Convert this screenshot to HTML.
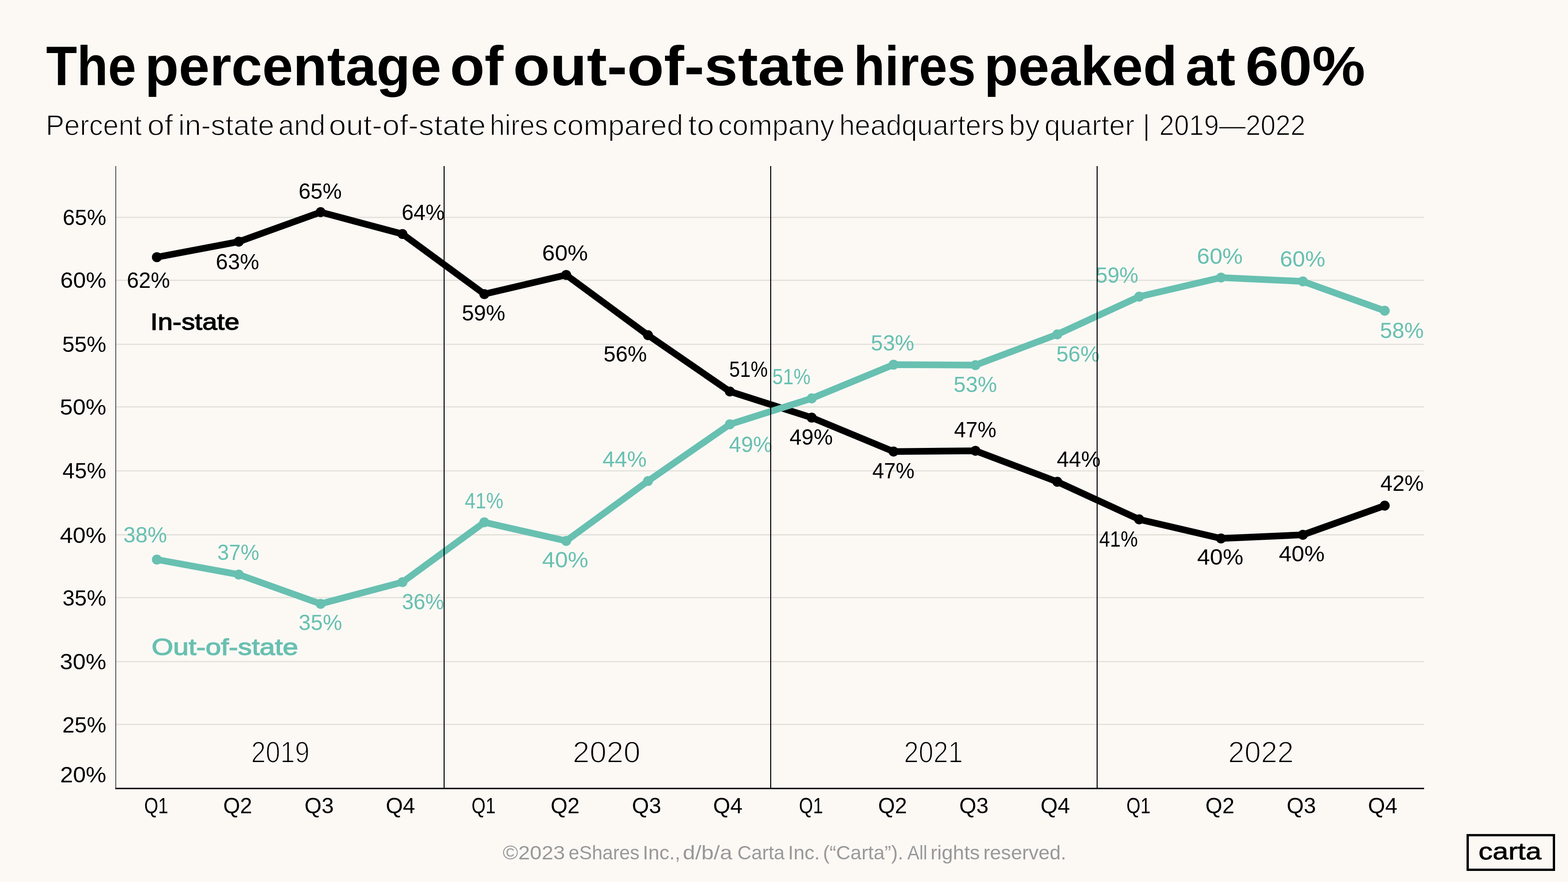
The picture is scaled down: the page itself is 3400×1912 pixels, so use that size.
<!DOCTYPE html>
<html lang="en">
<head>
<meta charset="utf-8">
<title>The percentage of out-of-state hires peaked at 60%</title>
<style>
html,body{margin:0;padding:0;background:#FCF9F5;}
body{width:3400px;height:1912px;overflow:hidden;position:relative;font-family:'Liberation Sans', sans-serif;}
svg{position:absolute;left:0;top:0;display:block;}
text{font-family:'Liberation Sans', sans-serif;white-space:pre;}
.t{font-weight:700;font-size:120px;fill:#000;}
.s{font-size:62.5px;fill:#000;stroke:#FCF9F5;stroke-width:1.5px;}
.yl{font-size:47.5px;fill:#000;}
.xl{font-size:48px;fill:#000;}
.yr{font-size:65px;fill:#000;stroke:#FCF9F5;stroke-width:1.9px;}
.dl{font-size:47.5px;}
.k{fill:#000;}
.g{fill:#68C0B1;}
.sl{font-size:50px;font-weight:400;stroke-width:1.5px;stroke-linejoin:miter;}
.sl.k{stroke:#000;}
.sl.g{stroke:#68C0B1;}
.ft{font-size:42.5px;fill:#999;}
.lg{font-size:52px;font-weight:400;fill:#000;stroke:#000;stroke-width:0.9px;stroke-linejoin:round;}
</style>
</head>
<body>
<svg width="3400" height="1912" viewBox="0 0 3400 1912">
<rect x="0" y="0" width="3400" height="1912" fill="#FCF9F5"/>
<text class="t" y="184.5"><tspan x="100.0" textLength="195.3" lengthAdjust="spacingAndGlyphs">The</tspan> <tspan x="314.0" textLength="643.0" lengthAdjust="spacingAndGlyphs">percentage</tspan> <tspan x="975.7" textLength="115.9" lengthAdjust="spacingAndGlyphs">of</tspan> <tspan x="1112.6" textLength="720.2" lengthAdjust="spacingAndGlyphs">out-of-state</tspan> <tspan x="1850.9" textLength="264.9" lengthAdjust="spacingAndGlyphs">hires</tspan> <tspan x="2133.4" textLength="419.4" lengthAdjust="spacingAndGlyphs">peaked</tspan> <tspan x="2570.4" textLength="108.4" lengthAdjust="spacingAndGlyphs">at</tspan> <tspan x="2700.6" textLength="259.8" lengthAdjust="spacingAndGlyphs">60%</tspan></text>
<text class="s" y="292.5"><tspan x="99.3" textLength="208.2" lengthAdjust="spacingAndGlyphs">Percent</tspan> <tspan x="319.5" textLength="55.5" lengthAdjust="spacingAndGlyphs">of</tspan> <tspan x="386.6" textLength="208.1" lengthAdjust="spacingAndGlyphs">in-state</tspan> <tspan x="603.5" textLength="102.1" lengthAdjust="spacingAndGlyphs">and</tspan> <tspan x="713.0" textLength="340.4" lengthAdjust="spacingAndGlyphs">out-of-state</tspan> <tspan x="1062.1" textLength="126.5" lengthAdjust="spacingAndGlyphs">hires</tspan> <tspan x="1198.1" textLength="283.3" lengthAdjust="spacingAndGlyphs">compared</tspan> <tspan x="1492.1" textLength="56.4" lengthAdjust="spacingAndGlyphs">to</tspan> <tspan x="1556.9" textLength="252.6" lengthAdjust="spacingAndGlyphs">company</tspan> <tspan x="1819.8" textLength="358.3" lengthAdjust="spacingAndGlyphs">headquarters</tspan> <tspan x="2187.5" textLength="66.9" lengthAdjust="spacingAndGlyphs">by</tspan> <tspan x="2264.8" textLength="195.1" lengthAdjust="spacingAndGlyphs">quarter</tspan> <tspan x="2477.7" textLength="16.2" lengthAdjust="spacingAndGlyphs">|</tspan> <tspan x="2513.7" textLength="316.9" lengthAdjust="spacingAndGlyphs">2019—2022</tspan></text>
<g id="grid" stroke="#E2E0DA" stroke-width="2.6" fill="none">
<line x1="251.0" y1="471.2" x2="3088.0" y2="471.2"/>
<line x1="251.0" y1="607.6" x2="3088.0" y2="607.6"/>
<line x1="251.0" y1="746.5" x2="3088.0" y2="746.5"/>
<line x1="251.0" y1="882.0" x2="3088.0" y2="882.0"/>
<line x1="251.0" y1="1020.7" x2="3088.0" y2="1020.7"/>
<line x1="251.0" y1="1159.4" x2="3088.0" y2="1159.4"/>
<line x1="251.0" y1="1295.5" x2="3088.0" y2="1295.5"/>
<line x1="251.0" y1="1434.2" x2="3088.0" y2="1434.2"/>
<line x1="251.0" y1="1570.4" x2="3088.0" y2="1570.4"/>
</g>
<line x1="251.0" y1="360.0" x2="251.0" y2="1710.7" stroke="#555" stroke-width="2"/>
<line x1="250.0" y1="1709.2" x2="3088.0" y2="1709.2" stroke="#000" stroke-width="3"/>
<g id="ylabels">
<text class="yl" x="135.9" y="487.9" textLength="94.5" lengthAdjust="spacingAndGlyphs">65%</text>
<text class="yl" x="130.8" y="624.3" textLength="99.7" lengthAdjust="spacingAndGlyphs">60%</text>
<text class="yl" x="134.9" y="763.3" textLength="95.5" lengthAdjust="spacingAndGlyphs">55%</text>
<text class="yl" x="129.8" y="898.7" textLength="100.7" lengthAdjust="spacingAndGlyphs">50%</text>
<text class="yl" x="135.6" y="1037.4" textLength="94.8" lengthAdjust="spacingAndGlyphs">45%</text>
<text class="yl" x="129.9" y="1176.5" textLength="100.6" lengthAdjust="spacingAndGlyphs">40%</text>
<text class="yl" x="135.4" y="1312.6" textLength="95.0" lengthAdjust="spacingAndGlyphs">35%</text>
<text class="yl" x="129.8" y="1451.3" textLength="100.7" lengthAdjust="spacingAndGlyphs">30%</text>
<text class="yl" x="135.3" y="1587.5" textLength="95.1" lengthAdjust="spacingAndGlyphs">25%</text>
<text class="yl" x="130.4" y="1695.8" textLength="100.1" lengthAdjust="spacingAndGlyphs">20%</text>
</g>
<g id="xlabels">
<text class="xl" x="312.7" y="1763.2" textLength="52.0" lengthAdjust="spacingAndGlyphs">Q1</text>
<text class="xl" x="483.9" y="1763.2" textLength="62.8" lengthAdjust="spacingAndGlyphs">Q2</text>
<text class="xl" x="660.2" y="1763.2" textLength="63.5" lengthAdjust="spacingAndGlyphs">Q3</text>
<text class="xl" x="836.4" y="1763.2" textLength="63.8" lengthAdjust="spacingAndGlyphs">Q4</text>
<text class="xl" x="1022.6" y="1763.2" textLength="52.0" lengthAdjust="spacingAndGlyphs">Q1</text>
<text class="xl" x="1193.9" y="1763.2" textLength="62.8" lengthAdjust="spacingAndGlyphs">Q2</text>
<text class="xl" x="1370.2" y="1763.2" textLength="63.5" lengthAdjust="spacingAndGlyphs">Q3</text>
<text class="xl" x="1546.3" y="1763.2" textLength="63.8" lengthAdjust="spacingAndGlyphs">Q4</text>
<text class="xl" x="1732.6" y="1763.2" textLength="52.0" lengthAdjust="spacingAndGlyphs">Q1</text>
<text class="xl" x="1903.9" y="1763.2" textLength="62.8" lengthAdjust="spacingAndGlyphs">Q2</text>
<text class="xl" x="2080.1" y="1763.2" textLength="63.5" lengthAdjust="spacingAndGlyphs">Q3</text>
<text class="xl" x="2256.3" y="1763.2" textLength="63.8" lengthAdjust="spacingAndGlyphs">Q4</text>
<text class="xl" x="2442.6" y="1763.2" textLength="52.0" lengthAdjust="spacingAndGlyphs">Q1</text>
<text class="xl" x="2613.8" y="1763.2" textLength="62.8" lengthAdjust="spacingAndGlyphs">Q2</text>
<text class="xl" x="2790.1" y="1763.2" textLength="63.5" lengthAdjust="spacingAndGlyphs">Q3</text>
<text class="xl" x="2966.3" y="1763.2" textLength="63.8" lengthAdjust="spacingAndGlyphs">Q4</text>
</g>
<g id="years">
<text class="yr" x="544.4" y="1652.8" textLength="126.8" lengthAdjust="spacingAndGlyphs">2019</text>
<text class="yr" x="1241.8" y="1652.8" textLength="146.9" lengthAdjust="spacingAndGlyphs">2020</text>
<text class="yr" x="1960.1" y="1652.8" textLength="127.8" lengthAdjust="spacingAndGlyphs">2021</text>
<text class="yr" x="2663.1" y="1652.8" textLength="142.1" lengthAdjust="spacingAndGlyphs">2022</text>
</g>
<g id="in-state">
<polyline points="340.2,557.5 517.7,523.9 695.2,459.9 872.7,507.3 1050.2,637.5 1227.7,596.0 1405.1,726.6 1582.6,848.7 1760.1,905.3 1937.6,978.9 2115.1,977.2 2292.6,1044.4 2470.1,1125.9 2647.6,1167.3 2825.1,1159.4 3002.6,1096.1" fill="none" stroke="#000" stroke-width="14.4" stroke-linejoin="round" stroke-linecap="round"/>
<g fill="#000">
<circle cx="340.2" cy="557.5" r="10.8"/>
<circle cx="517.7" cy="523.9" r="10.8"/>
<circle cx="695.2" cy="459.9" r="10.8"/>
<circle cx="872.7" cy="507.3" r="10.8"/>
<circle cx="1050.2" cy="637.5" r="10.8"/>
<circle cx="1227.7" cy="596.0" r="10.8"/>
<circle cx="1405.1" cy="726.6" r="10.8"/>
<circle cx="1582.6" cy="848.7" r="10.8"/>
<circle cx="1760.1" cy="905.3" r="10.8"/>
<circle cx="1937.6" cy="978.9" r="10.8"/>
<circle cx="2115.1" cy="977.2" r="10.8"/>
<circle cx="2292.6" cy="1044.4" r="10.8"/>
<circle cx="2470.1" cy="1125.9" r="10.8"/>
<circle cx="2647.6" cy="1167.3" r="10.8"/>
<circle cx="2825.1" cy="1159.4" r="10.8"/>
<circle cx="3002.6" cy="1096.1" r="10.8"/>
</g>
</g>
<g id="out-of-state">
<polyline points="340.2,1213.0 517.7,1245.5 695.2,1309.0 872.7,1262.0 1050.2,1132.2 1227.7,1172.6 1405.1,1042.8 1582.6,919.9 1760.1,863.6 1937.6,790.5 2115.1,791.5 2292.6,724.9 2470.1,643.1 2647.6,601.7 2825.1,610.0 3002.6,673.6" fill="none" stroke="#68C0B1" stroke-width="14.4" stroke-linejoin="round" stroke-linecap="round"/>
<g fill="#68C0B1">
<circle cx="340.2" cy="1213.0" r="10.8"/>
<circle cx="517.7" cy="1245.5" r="10.8"/>
<circle cx="695.2" cy="1309.0" r="10.8"/>
<circle cx="872.7" cy="1262.0" r="10.8"/>
<circle cx="1050.2" cy="1132.2" r="10.8"/>
<circle cx="1227.7" cy="1172.6" r="10.8"/>
<circle cx="1405.1" cy="1042.8" r="10.8"/>
<circle cx="1582.6" cy="919.9" r="10.8"/>
<circle cx="1760.1" cy="863.6" r="10.8"/>
<circle cx="1937.6" cy="790.5" r="10.8"/>
<circle cx="2115.1" cy="791.5" r="10.8"/>
<circle cx="2292.6" cy="724.9" r="10.8"/>
<circle cx="2470.1" cy="643.1" r="10.8"/>
<circle cx="2647.6" cy="601.7" r="10.8"/>
<circle cx="2825.1" cy="610.0" r="10.8"/>
<circle cx="3002.6" cy="673.6" r="10.8"/>
</g>
</g>
<g id="datalabels">
<text class="dl k" x="275.0" y="624.2" textLength="93.6" lengthAdjust="spacingAndGlyphs">62%</text>
<text class="dl k" x="468.1" y="583.8" textLength="94.0" lengthAdjust="spacingAndGlyphs">63%</text>
<text class="dl k" x="647.6" y="431.1" textLength="93.6" lengthAdjust="spacingAndGlyphs">65%</text>
<text class="dl k" x="870.9" y="476.8" textLength="93.3" lengthAdjust="spacingAndGlyphs">64%</text>
<text class="dl k" x="1001.4" y="694.7" textLength="94.3" lengthAdjust="spacingAndGlyphs">59%</text>
<text class="dl k" x="1175.6" y="564.5" textLength="99.2" lengthAdjust="spacingAndGlyphs">60%</text>
<text class="dl k" x="1308.8" y="784.2" textLength="94.0" lengthAdjust="spacingAndGlyphs">56%</text>
<text class="dl k" x="1581.3" y="817.3" textLength="83.6" lengthAdjust="spacingAndGlyphs">51%</text>
<text class="dl k" x="1712.0" y="963.6" textLength="93.9" lengthAdjust="spacingAndGlyphs">49%</text>
<text class="dl k" x="1891.4" y="1037.1" textLength="91.7" lengthAdjust="spacingAndGlyphs">47%</text>
<text class="dl k" x="2068.7" y="947.7" textLength="91.7" lengthAdjust="spacingAndGlyphs">47%</text>
<text class="dl k" x="2291.4" y="1012.3" textLength="95.0" lengthAdjust="spacingAndGlyphs">44%</text>
<text class="dl k" x="2383.5" y="1184.5" textLength="83.9" lengthAdjust="spacingAndGlyphs">41%</text>
<text class="dl k" x="2595.7" y="1224.3" textLength="100.5" lengthAdjust="spacingAndGlyphs">40%</text>
<text class="dl k" x="2773.0" y="1217.0" textLength="99.4" lengthAdjust="spacingAndGlyphs">40%</text>
<text class="dl k" x="2993.3" y="1064.3" textLength="93.9" lengthAdjust="spacingAndGlyphs">42%</text>
<text class="dl g" x="267.4" y="1176.3" textLength="94.7" lengthAdjust="spacingAndGlyphs">38%</text>
<text class="dl g" x="471.2" y="1214.3" textLength="90.9" lengthAdjust="spacingAndGlyphs">37%</text>
<text class="dl g" x="647.6" y="1366.3" textLength="94.3" lengthAdjust="spacingAndGlyphs">35%</text>
<text class="dl g" x="871.4" y="1320.9" textLength="91.7" lengthAdjust="spacingAndGlyphs">36%</text>
<text class="dl g" x="1007.8" y="1102.3" textLength="83.7" lengthAdjust="spacingAndGlyphs">41%</text>
<text class="dl g" x="1175.6" y="1229.9" textLength="100.1" lengthAdjust="spacingAndGlyphs">40%</text>
<text class="dl g" x="1306.5" y="1012.3" textLength="95.7" lengthAdjust="spacingAndGlyphs">44%</text>
<text class="dl g" x="1580.8" y="980.2" textLength="93.9" lengthAdjust="spacingAndGlyphs">49%</text>
<text class="dl g" x="1674.7" y="833.3" textLength="82.7" lengthAdjust="spacingAndGlyphs">51%</text>
<text class="dl g" x="1888.2" y="760.0" textLength="94.3" lengthAdjust="spacingAndGlyphs">53%</text>
<text class="dl g" x="2067.7" y="850.0" textLength="94.3" lengthAdjust="spacingAndGlyphs">53%</text>
<text class="dl g" x="2290.4" y="784.2" textLength="94.2" lengthAdjust="spacingAndGlyphs">56%</text>
<text class="dl g" x="2375.9" y="612.6" textLength="92.6" lengthAdjust="spacingAndGlyphs">59%</text>
<text class="dl g" x="2595.3" y="572.2" textLength="99.5" lengthAdjust="spacingAndGlyphs">60%</text>
<text class="dl g" x="2775.2" y="577.8" textLength="98.5" lengthAdjust="spacingAndGlyphs">60%</text>
<text class="dl g" x="2992.3" y="732.8" textLength="95.0" lengthAdjust="spacingAndGlyphs">58%</text>
</g>
<g id="dividers" stroke="#000" stroke-width="2.2" fill="none">
<line x1="963.0" y1="360.0" x2="963.0" y2="1709.2"/>
<line x1="1671.1" y1="360.0" x2="1671.1" y2="1709.2"/>
<line x1="2379.0" y1="360.0" x2="2379.0" y2="1709.2"/>
</g>
<text class="sl k" x="326.1" y="715.3" textLength="193.0" lengthAdjust="spacingAndGlyphs">In-state</text>
<text class="sl g" x="328.7" y="1419.8" textLength="317.9" lengthAdjust="spacingAndGlyphs">Out-of-state</text>
<text class="ft" y="1863.0"><tspan x="1090.0" textLength="135.2" lengthAdjust="spacingAndGlyphs">©2023</tspan> <tspan x="1233.0" textLength="153.5" lengthAdjust="spacingAndGlyphs">eShares</tspan> <tspan x="1393.8" textLength="81.4" lengthAdjust="spacingAndGlyphs">Inc.,</tspan> <tspan x="1480.6" textLength="107.2" lengthAdjust="spacingAndGlyphs">d/b/a</tspan> <tspan x="1598.9" textLength="102.5" lengthAdjust="spacingAndGlyphs">Carta</tspan> <tspan x="1708.8" textLength="68.9" lengthAdjust="spacingAndGlyphs">Inc.</tspan> <tspan x="1784.4" textLength="174.3" lengthAdjust="spacingAndGlyphs">(“Carta”).</tspan> <tspan x="1967.5" textLength="43.2" lengthAdjust="spacingAndGlyphs">All</tspan> <tspan x="2017.8" textLength="106.9" lengthAdjust="spacingAndGlyphs">rights</tspan> <tspan x="2132.2" textLength="179.9" lengthAdjust="spacingAndGlyphs">reserved.</tspan></text>
<rect x="3182.5" y="1810.5" width="187" height="75" fill="none" stroke="#000" stroke-width="5"/>
<text class="lg" x="3205.9" y="1863.4" textLength="136.4" lengthAdjust="spacingAndGlyphs">carta</text>
</svg>
</body>
</html>
